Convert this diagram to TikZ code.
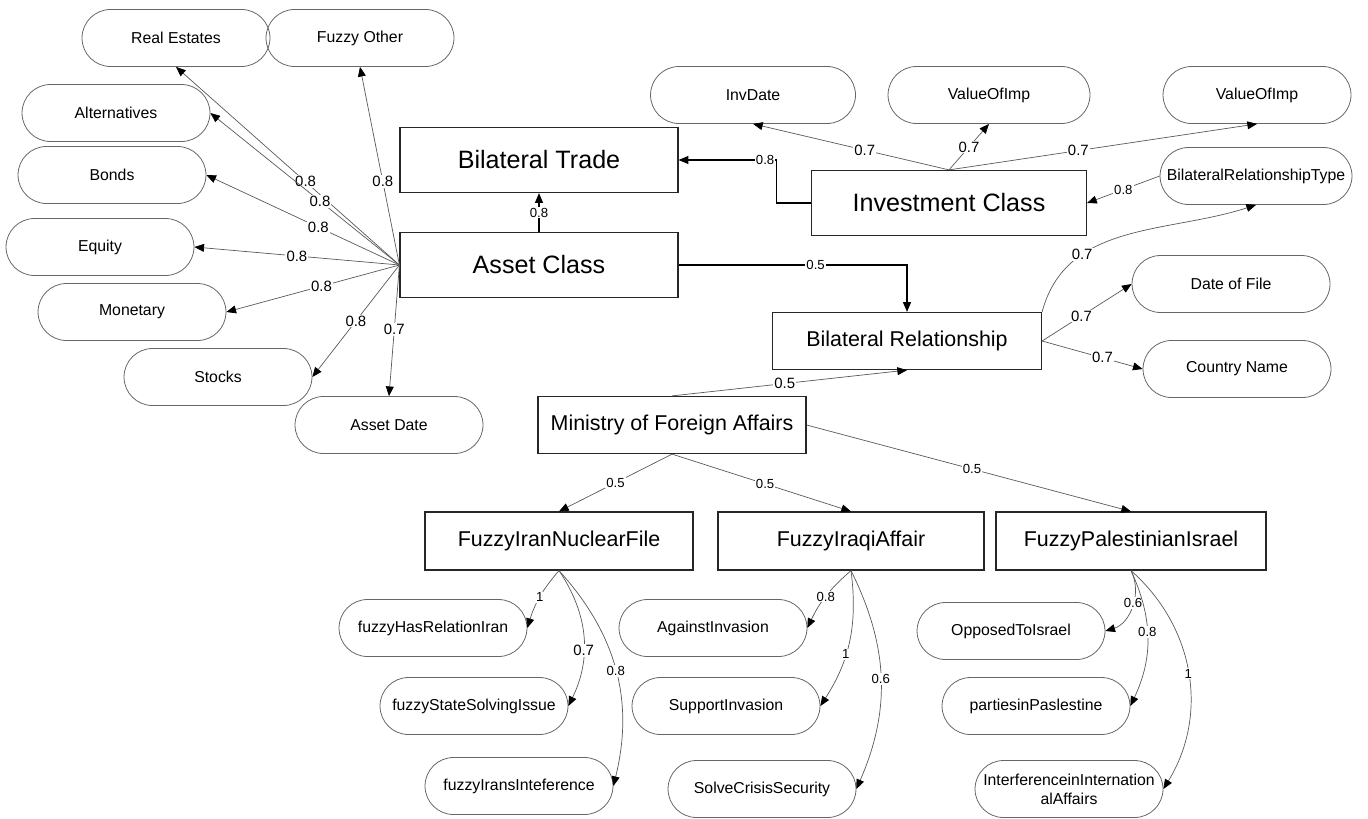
\documentclass[tikz,border=0pt]{standalone}
\usepackage{fontspec}
\setmainfont{Liberation Sans}
\usetikzlibrary{shapes.misc,arrows.meta}

\begin{document}
\begin{tikzpicture}[x=0.02cm,y=-0.02cm,
    cls/.style={draw=black!85,line width=0.7pt,rectangle,inner sep=0pt,font=\fontsize{14.3}{16}\selectfont},
    sub/.style={cls,font=\fontsize{12.2}{14}\selectfont},
    attr/.style={draw=black!60,line width=0.45pt,rounded rectangle,minimum width=3.76cm,minimum height=1.14cm,inner sep=0pt,align=center,font=\fontsize{9}{11}\selectfont},
    rel/.style={draw=black!65,line width=0.4pt,-{Triangle[length=5.5pt,width=4.5pt,black]}},
    link/.style={draw=black,line width=0.6pt,-{Triangle[length=5.5pt,width=4.5pt]}},
    wt/.style={fill=white,inner sep=0.6pt,font=\fontsize{8.5}{10}\selectfont},
    wts/.style={wt,font=\fontsize{7.5}{9}\selectfont}]
    \useasboundingbox (0,0) rectangle (1368,818);

    % classes
    \node[cls,minimum width=5.56cm,minimum height=1.3cm] (trade) at (539,160) {Bilateral Trade};
    \node[cls,minimum width=5.56cm,minimum height=1.3cm] (asset) at (539,265) {Asset Class};
    \node[cls,minimum width=5.5cm,minimum height=1.3cm] (invest) at (949,203) {Investment Class};
    \node[sub,minimum width=5.38cm,minimum height=1.14cm] (birel) at (907,341) {Bilateral Relationship};
    \node[sub,minimum width=5.36cm,minimum height=1.14cm] (mofa) at (672,425) {Ministry of Foreign Affairs};
    \node[sub,minimum width=5.36cm,minimum height=1.16cm] (iran) at (559,541) {FuzzyIranNuclearFile};
    \node[sub,minimum width=5.32cm,minimum height=1.16cm] (iraq) at (851,541) {FuzzyIraqiAffair};
    \node[sub,minimum width=5.4cm,minimum height=1.16cm] (pal) at (1131,541) {FuzzyPalestinianIsrael};

    % attributes
    \node[attr] (realest) at (176,38) {Real Estates};
    \node[attr] (fzother) at (360,38) {Fuzzy Other};
    \node[attr] (altern) at (116,113) {Alternatives};
    \node[attr] (bonds) at (112,175) {Bonds};
    \node[attr] (equity) at (100,247) {Equity};
    \node[attr] (monet) at (132,312) {Monetary};
    \node[attr] (stocks) at (218,377) {Stocks};
    \node[attr] (adate) at (389,425) {Asset Date};
    \node[attr,minimum width=4.1cm] (invdate) at (753,95) {InvDate};
    \node[attr,minimum width=4.04cm] (voi) at (989,95) {ValueOfImp};
    \node[attr] (voib) at (1257,95) {ValueOfImp};
    \node[attr,minimum width=3.84cm] (brtype) at (1256,176) {BilateralRelationshipType};
    \node[attr,minimum width=3.96cm] (dfile) at (1231,284) {Date of File};
    \node[attr] (cname) at (1237,369) {Country Name};
    \node[attr] (hasrel) at (433,628) {fuzzyHasRelationIran};
    \node[attr] (solving) at (474,706) {fuzzyStateSolvingIssue};
    \node[attr] (interf) at (519,786) {fuzzyIransInteference};
    \node[attr] (against) at (713,628) {AgainstInvasion};
    \node[attr] (support) at (726,706) {SupportInvasion};
    \node[attr] (crisis) at (762,789) {SolveCrisisSecurity};
    \node[attr] (opposed) at (1011,631) {OpposedToIsrael};
    \node[attr] (parties) at (1036,706) {partiesinPaslestine};
    \node[attr] (intaff) at (1069,789) {InterferenceinInternation\\alAffairs};

    % asset class fan
    \coordinate (fan) at (asset.west);
    \draw[rel] (fan) -- node[wt,pos=0.42] {0.8} (realest.south);
    \draw[rel] (fan) -- node[wt,pos=0.42] {0.8} (altern.east);
    \draw[rel] (fan) -- node[wt,pos=0.42] {0.8} (bonds.east);
    \draw[rel] (fan) -- node[wt,pos=0.5] {0.8} (equity.east);
    \draw[rel] (fan) -- node[wt,pos=0.45] {0.8} (monet.east);
    \draw[rel] (fan) -- node[wt,pos=0.5] {0.8} (stocks.east);
    \draw[rel] (fan) -- node[wt,pos=0.49] {0.7} (adate.north);
    \draw[rel] (fan) -- node[wt,pos=0.42] {0.8} (fzother.south);

    \draw[link] (asset) -- node[wts] {0.8} (trade);
    \draw[link] (invest.west) -- ++(-34,0) |- node[wts,pos=0.56] {0.8} (trade.east);
    \draw[link] (asset.east) -| node[wts,pos=0.3] {0.5} (birel.north);

    % investment class
    \draw[rel] (invest.north) -- node[wt,pos=0.43] {0.7} (invdate.south);
    \draw[rel] (invest.north) -- node[wt,pos=0.5] {0.7} (voi.south);
    \draw[rel] (invest.north) -- node[wt,pos=0.42] {0.7} (voib.south);
    \draw[rel] (brtype.west) -- node[wts] {0.8} (invest.east);

    % bilateral relationship
    \draw[rel] (birel.north east) to[out=75,in=198] node[wt,pos=0.3] {0.7} (brtype.south);
    \draw[rel] (birel.east) -- node[wt,pos=0.44] {0.7} (dfile.west);
    \draw[rel] (birel.east) -- node[wt,pos=0.6] {0.7} (cname.west);

    % ministry
    \draw[rel] (mofa.north) -- node[wt,pos=0.48] {0.5} (birel.south);
    \draw[rel] (mofa.south) -- node[wts,pos=0.5] {0.5} (iran.north);
    \draw[rel] (mofa.south) -- node[wts,pos=0.52] {0.5} (iraq.north);
    \draw[rel] (mofa.east) -- node[wts,pos=0.51] {0.5} (pal.north);

    % fuzzy files
    \draw[rel] (iran.south) to[bend right=12] node[wts] {1} (hasrel.east);
    \draw[rel] (iran.south) to[bend left=30] node[wt,pos=0.6] {0.7} (solving.east);
    \draw[rel] (iran.south) to[bend left=28] node[wts] {0.8} (interf.east);
    \draw[rel] (iraq.south) to[bend right=12] node[wts] {0.8} (against.east);
    \draw[rel] (iraq.south) to[bend left=20] node[wts,pos=0.6] {1} (support.east);
    \draw[rel] (iraq.south) to[bend left=25] node[wts] {0.6} (crisis.east);
    \draw[rel] (pal.south) to[bend left=50] node[wts,pos=0.45] {0.6} (opposed.east);
    \draw[rel] (pal.south) to[bend left=25] node[wts,pos=0.45] {0.8} (parties.east);
    \draw[rel] (pal.south) to[bend left=40] node[wts] {1} (intaff.east);
\end{tikzpicture}
\end{document}
